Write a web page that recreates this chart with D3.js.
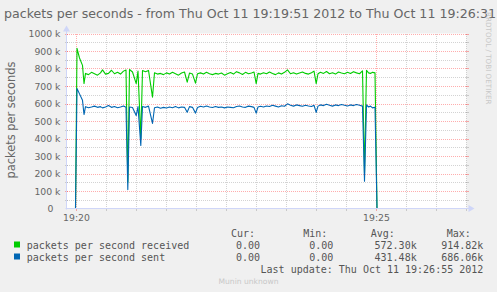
<!DOCTYPE html>
<html>
<head>
<meta charset="utf-8">
<script src="https://cdn.jsdelivr.net/npm/d3@7"></script>
<style>
    body { margin: 0; background: #F0F0F0; }
    svg { display: block; }
</style>
</head>
<body>
<div id="chart"></div>
<script>
// seconds after 19:19:51
const sampleSeconds = [
    0, 9, 10.5, 13, 16, 17.5, 19, 22, 25, 28, 31, 34, 36, 39, 42, 45, 48, 51, 54, 57,
    59.5, 61.3, 63, 66, 69.7, 71.5, 74.3, 76, 79, 82, 86, 88, 91, 94, 97, 100, 103, 106,
    109, 112, 115, 118, 120.7, 123, 126, 129, 131, 134, 137, 140, 143, 146, 149, 152,
    155, 158, 161, 164, 167, 170, 173, 176, 179, 182, 185, 187.5, 189.7, 191.5, 194,
    197, 200, 203, 206, 209, 212, 215, 218, 221, 224, 227, 230, 233, 236, 239, 242, 245,
    247.5, 249.7, 251.5, 254, 257, 260, 263, 266, 269, 272, 275, 278, 281, 284, 287, 290,
    293, 296, 298, 300, 302, 304, 306, 308.5, 310.5, 400
];

// packets per second received (k)
const received = [
    0, 0, 914.82, 860, 818, 714, 772, 765, 778, 770, 762, 775, 792, 768, 772, 790, 770, 778, 768, 785,
    792, 150, 794, 780, 714, 785, 400, 788, 782, 789, 636, 776, 768, 772, 765, 775, 768, 778,
    770, 762, 774, 780, 722, 774, 768, 716, 770, 775, 768, 778, 770, 765, 772, 768,
    774, 762, 770, 777, 768, 782, 775, 766, 778, 770, 774, 780, 714, 772, 768,
    776, 770, 780, 772, 765, 775, 768, 778, 792, 770, 776, 768, 774, 780, 772, 768, 776,
    785, 714, 770, 778, 772, 783, 770, 776, 768, 780, 774, 770, 778, 772, 782, 775,
    770, 786, 200, 790, 775, 772, 778, 775, 0, 0
];

// packets per second sent (k)
const sent = [
    0, 0, 686.06, 655, 618, 537, 582, 576, 580, 585, 578, 582, 575, 580, 588, 578, 583, 576, 580, 586,
    578, 108, 580, 577, 531, 582, 360, 583, 578, 585, 486, 576, 580, 573, 578, 574, 580, 576,
    583, 575, 580, 578, 550, 582, 578, 545, 577, 584, 580, 586, 580, 577, 583, 578,
    580, 575, 580, 578, 576, 583, 586, 580, 578, 585, 582, 578, 545, 580, 584,
    580, 586, 583, 590, 585, 580, 587, 584, 598, 590, 585, 592, 588, 584, 590, 586, 583,
    590, 549, 585, 592, 588, 596, 590, 585, 592, 588, 594, 590, 586, 592, 588, 594,
    590, 585, 156, 592, 580, 585, 575, 579, 0, 0
];

const seriesNames = ["packets per second received", "packets per second sent"];
const seriesColors = ["#00CC00", "#0066B3"];
const curValues = ["0.00", "0.00"];
const minValues = ["0.00", "0.00"];
const avgValues = ["572.30k", "431.48k"];
const maxValues = ["914.82k", "686.06k"];

const yMax = 1000;
const yMajorTicks = d3.range(0, 1001, 100);
const yMinorTicks = d3.range(50, 1000, 100);

const startTime = new Date(2012, 9, 11, 19, 19, 51);
const endTime = new Date(2012, 9, 11, 19, 26, 31);

const titleText = "packets per seconds - from Thu Oct 11 19:19:51 2012 to Thu Oct 11 19:26:31";
const yLabelText = "packets per seconds";
const lastUpdateText = "Last update: Thu Oct 11 19:26:55 2012";

const colors = {
    canvas: "#FFFFFF",
    font: "#666666",
    axis: "#CFD6F8",
    grid: "rgba(128,128,128,0.35)",
    mgrid: "rgba(255,0,0,0.32)",
    watermark: "#C8C8C8"
};

const size = { width: 497, height: 292 };
const plot = { left: 66.5, right: 466.5, top: 33.5, bottom: 208.5 };

function drawChart() {
    const svg = d3.select("#chart").append("svg")
        .attr("width", size.width)
        .attr("height", size.height)
        .style("font-family", "'DejaVu Sans', sans-serif");

    svg.append("rect")
        .attr("width", size.width)
        .attr("height", size.height)
        .attr("fill", "#F0F0F0");

    const x = d3.scaleTime()
        .domain([startTime, endTime])
        .range([plot.left, plot.right]);

    const y = d3.scaleLinear()
        .domain([0, yMax])
        .range([plot.bottom, plot.top]);

    svg.append("rect")
        .attr("x", plot.left)
        .attr("y", plot.top)
        .attr("width", plot.right - plot.left)
        .attr("height", plot.bottom - plot.top)
        .attr("fill", colors.canvas);

    drawGrid(svg, x, y);
    drawSeries(svg, x, y);
    drawAxes(svg, x, y);
    drawTexts(svg);
    drawLegend(svg);
}

function drawGrid(svg, x, y) {
    const grid = svg.append("g").attr("shape-rendering", "crispEdges");

    const minorTimes = d3.timeSecond.every(30).range(startTime, endTime)
        .filter(d => d.getSeconds() !== 0 || d.getMinutes() % 5 !== 0);
    const majorTimes = d3.timeMinute.every(5).range(startTime, endTime);

    const hLine = (v, color) => {
        grid.append("line")
            .attr("x1", plot.left).attr("x2", plot.right)
            .attr("y1", Math.round(y(v)) + 0.5).attr("y2", Math.round(y(v)) + 0.5)
            .attr("stroke", color)
            .attr("stroke-dasharray", "1,1");
        [[plot.left - 2, plot.left + 1], [plot.right - 1, plot.right + 2]].forEach(([a, b]) => {
            grid.append("line")
                .attr("x1", a).attr("x2", b)
                .attr("y1", Math.round(y(v)) + 0.5).attr("y2", Math.round(y(v)) + 0.5)
                .attr("stroke", color);
        });
    };

    const vLine = (t, color) => {
        const px = Math.round(x(t)) + 0.5;
        grid.append("line")
            .attr("x1", px).attr("x2", px)
            .attr("y1", plot.top).attr("y2", plot.bottom)
            .attr("stroke", color)
            .attr("stroke-dasharray", "1,1");
        grid.append("line")
            .attr("x1", px).attr("x2", px)
            .attr("y1", plot.bottom - 1).attr("y2", plot.bottom + 2)
            .attr("stroke", color);
    };

    yMinorTicks.forEach(v => hLine(v, colors.grid));
    minorTimes.forEach(t => vLine(t, colors.grid));
    yMajorTicks.filter(v => v > 0).forEach(v => hLine(v, colors.mgrid));
    majorTimes.forEach(t => vLine(t, colors.mgrid));
}

function drawSeries(svg, x, y) {
    const line = d3.line()
        .x((d, i) => x(new Date(startTime.getTime() + sampleSeconds[i] * 1000)))
        .y(d => y(d));

    [received, sent].forEach((values, i) => {
        svg.append("path")
            .datum(values)
            .attr("d", line)
            .attr("fill", "none")
            .attr("stroke", seriesColors[i])
            .attr("stroke-width", 1.1)
            .attr("stroke-linejoin", "round");
    });
}

function drawAxes(svg, x, y) {
    const axisGroup = svg.append("g");

    axisGroup.append("line")
        .attr("x1", plot.left).attr("x2", plot.left)
        .attr("y1", plot.bottom + 1).attr("y2", plot.top - 4)
        .attr("stroke", colors.axis);
    axisGroup.append("line")
        .attr("x1", plot.left - 1).attr("x2", plot.right + 3)
        .attr("y1", plot.bottom).attr("y2", plot.bottom)
        .attr("stroke", colors.axis);

    axisGroup.append("path")
        .attr("d", `M${plot.left - 3.5},${plot.top - 2} L${plot.left + 3.5},${plot.top - 2} L${plot.left},${plot.top - 8} Z`)
        .attr("fill", colors.axis);
    axisGroup.append("path")
        .attr("d", `M${plot.right + 2},${plot.bottom - 3.5} L${plot.right + 2},${plot.bottom + 3.5} L${plot.right + 8},${plot.bottom} Z`)
        .attr("fill", colors.axis);

    // y tick labels
    axisGroup.selectAll(".ylab")
        .data(yMajorTicks)
        .join("text")
        .attr("x", d => d === 0 ? 53.5 : 60.5)
        .attr("y", d => y(d) + 3.5)
        .attr("text-anchor", "end")
        .attr("fill", colors.font)
        .style("font-size", "9.3px")
        .text(d => d === 0 ? "0" : `${d} k`);

    // x tick labels
    const majorTimes = d3.timeMinute.every(5).range(startTime, endTime);
    axisGroup.selectAll(".xlab")
        .data(majorTimes)
        .join("text")
        .attr("x", d => Math.round(x(d)) + 0.5)
        .attr("y", 220.5)
        .attr("text-anchor", "middle")
        .attr("fill", colors.font)
        .style("font-size", "9.3px")
        .text(d3.timeFormat("%H:%M"));
}

function drawTexts(svg) {
    svg.append("text")
        .attr("x", 4)
        .attr("y", 18)
        .attr("fill", colors.font)
        .attr("textLength", 492)
        .attr("lengthAdjust", "spacingAndGlyphs")
        .style("font-size", "12.6px")
        .text(titleText);

    svg.append("text")
        .attr("transform", `translate(15, ${(plot.top + plot.bottom) / 2 - 1}) rotate(-90)`)
        .attr("text-anchor", "middle")
        .attr("fill", colors.font)
        .style("font-size", "11.4px")
        .text(yLabelText);

    svg.append("text")
        .attr("transform", "translate(486, 12) rotate(90)")
        .attr("fill", colors.watermark)
        .style("font-size", "7.2px")
        .text("RRDTOOL / TOBI OETIKER");

    svg.append("text")
        .attr("x", 248.5)
        .attr("y", 283.5)
        .attr("text-anchor", "middle")
        .attr("fill", colors.watermark)
        .style("font-size", "7.6px")
        .text("Munin unknown");
}

function drawLegend(svg) {
    const legend = svg.append("g")
        .style("font-family", "'DejaVu Sans Mono', monospace")
        .style("font-size", "10px")
        .attr("fill", "#555555");

    const headers = [["Cur:", 231], ["Min:", 303.3], ["Avg:", 370.7], ["Max:", 446.7]];
    headers.forEach(([label, hx]) => {
        legend.append("text").attr("x", hx).attr("y", 237).text(label);
    });

    const columns = [[curValues, 260], [minValues, 333.3], [avgValues, 416.7], [maxValues, 483.3]];

    seriesNames.forEach((name, i) => {
        const rowY = 249 + i * 12;
        legend.append("rect")
            .attr("x", 14).attr("y", rowY - 7.5)
            .attr("width", 6).attr("height", 6)
            .attr("fill", seriesColors[i]);
        legend.append("text").attr("x", 26.7).attr("y", rowY).text(name);
        columns.forEach(([values, cx]) => {
            legend.append("text")
                .attr("x", cx).attr("y", rowY)
                .attr("text-anchor", "end")
                .text(values[i]);
        });
    });

    legend.append("text")
        .attr("x", 483.3).attr("y", 273)
        .attr("text-anchor", "end")
        .text(lastUpdateText);
}

drawChart();
</script>
</body>
</html>
